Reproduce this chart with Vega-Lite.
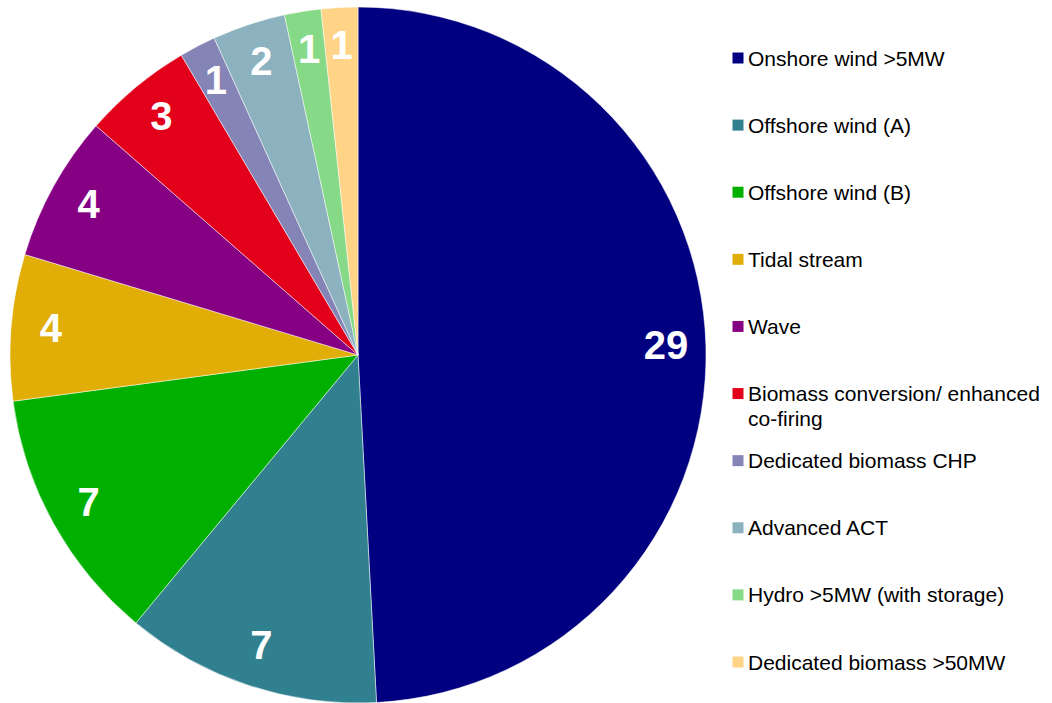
{
  "$schema": "https://vega.github.io/schema/vega-lite/v6.json",
  "padding": 0,
  "spacing": 0,
  "background": "white",
  "config": {"view": {"stroke": null}, "font": "Liberation Sans"},
  "data": {
    "values": [
      {"ord": 1, "category": "Onshore wind >5MW", "value": 29},
      {"ord": 2, "category": "Offshore wind (A)", "value": 7},
      {"ord": 3, "category": "Offshore wind (B)", "value": 7},
      {"ord": 4, "category": "Tidal stream", "value": 4},
      {"ord": 5, "category": "Wave", "value": 4},
      {"ord": 6, "category": "Biomass conversion/ enhanced\nco-firing", "value": 3},
      {"ord": 7, "category": "Dedicated biomass CHP", "value": 1},
      {"ord": 8, "category": "Advanced ACT", "value": 2},
      {"ord": 9, "category": "Hydro >5MW (with storage)", "value": 1},
      {"ord": 10, "category": "Dedicated biomass >50MW", "value": 1}
    ]
  },
  "hconcat": [
    {
      "width": 716,
      "height": 710,
      "encoding": {
        "theta": {"field": "value", "type": "quantitative", "stack": true},
        "order": {"field": "ord", "type": "quantitative", "sort": "ascending"}
      },
      "layer": [
        {
          "mark": {"type": "arc", "outerRadius": 348, "stroke": "white", "strokeWidth": 0.5},
          "encoding": {
            "color": {
              "field": "category",
              "type": "nominal",
              "scale": {
                "domain": ["Onshore wind >5MW", "Offshore wind (A)", "Offshore wind (B)", "Tidal stream", "Wave", "Biomass conversion/ enhanced\nco-firing", "Dedicated biomass CHP", "Advanced ACT", "Hydro >5MW (with storage)", "Dedicated biomass >50MW"],
                "range": ["#000080", "#31808F", "#00B000", "#E0AE06", "#860083", "#E2001A", "#8584B6", "#8CB2BF", "#86D986", "#FFD486"]
              },
              "legend": null
            }
          }
        },
        {
          "mark": {"type": "text", "radius": 308, "fontSize": 40, "fontWeight": "bold", "fill": "white", "align": "center", "baseline": "middle", "font": "Liberation Sans"},
          "encoding": {"text": {"field": "value", "type": "quantitative"}}
        }
      ]
    },
    {
      "width": 336,
      "height": 710,
      "encoding": {
        "y": {
          "field": "category",
          "type": "nominal",
          "sort": {"field": "ord"},
          "scale": {"type": "point", "padding": 0, "range": [58, 662]},
          "axis": null
        },
        "x": {"datum": 0, "type": "quantitative", "scale": {"domain": [0, 1]}, "axis": null}
      },
      "layer": [
        {
          "mark": {"type": "square", "size": 121, "opacity": 1, "xOffset": 22},
          "encoding": {
            "color": {
              "field": "category",
              "type": "nominal",
              "scale": {
                "domain": ["Onshore wind >5MW", "Offshore wind (A)", "Offshore wind (B)", "Tidal stream", "Wave", "Biomass conversion/ enhanced\nco-firing", "Dedicated biomass CHP", "Advanced ACT", "Hydro >5MW (with storage)", "Dedicated biomass >50MW"],
                "range": ["#000080", "#31808F", "#00B000", "#E0AE06", "#860083", "#E2001A", "#8584B6", "#8CB2BF", "#86D986", "#FFD486"]
              },
              "legend": null
            }
          }
        },
        {
          "mark": {"type": "text", "align": "left", "baseline": "alphabetic", "dx": 32, "dy": 7.5, "fontSize": 21, "lineBreak": "\n", "lineHeight": 25, "fill": "#000000", "font": "Liberation Sans"},
          "encoding": {"text": {"field": "category", "type": "nominal"}}
        }
      ]
    }
  ]
}
